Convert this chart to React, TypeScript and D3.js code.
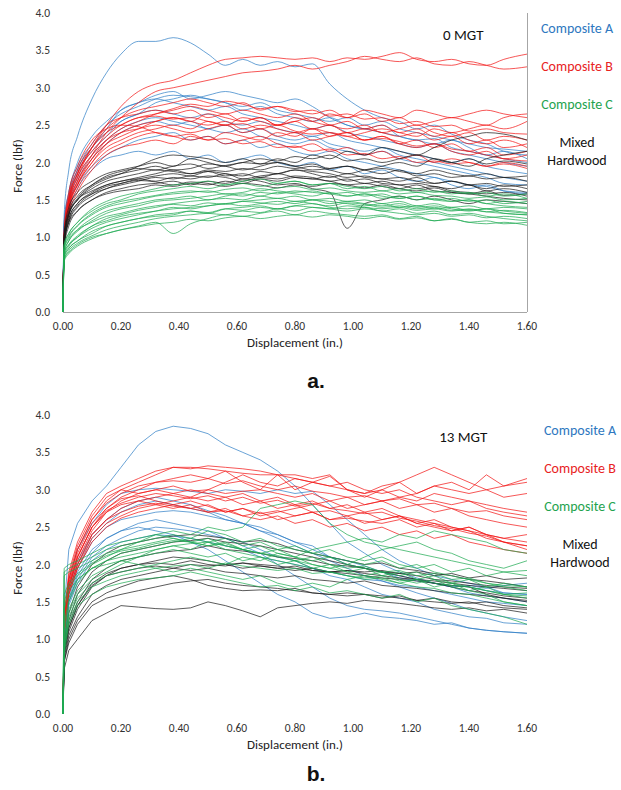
import React from "react";
import * as d3 from "d3";

// displacement (in.) sampling shared by every curve
const disp = [0, 0.004, 0.02, 0.05, 0.1, 0.15, 0.2, 0.26, 0.32, 0.38,
  0.44, 0.5, 0.56, 0.62, 0.68, 0.74, 0.8, 0.86, 0.92, 0.98,
  1.04, 1.1, 1.16, 1.22, 1.28, 1.34, 1.4, 1.46, 1.52, 1.6];

const xTicks = [0, 0.2, 0.4, 0.6, 0.8, 1.0, 1.2, 1.4, 1.6];
const yTicks = [0, 0.5, 1.0, 1.5, 2.0, 2.5, 3.0, 3.5, 4.0];

const groupNames = ["Composite A", "Composite B", "Composite C", "Mixed Hardwood"];

// ---- 0 MGT ----
const aCompA = [
  [0, 1.3, 1.9, 2.35, 2.85, 3.2, 3.45, 3.62, 3.62, 3.67, 3.6, 3.45, 3.3, 3.38, 3.3, 3.35, 3.28, 3.32, 3.05, 2.85, 2.7, 2.6, 2.55, 2.45, 2.5, 2.38, 2.3, 2.25, 2.15, 2.1],
  [0, 1.2, 1.6, 1.95, 2.25, 2.5, 2.65, 2.75, 2.85, 2.9, 2.88, 2.85, 2.8, 2.7, 2.75, 2.65, 2.6, 2.55, 2.6, 2.5, 2.45, 2.4, 2.35, 2.3, 2.32, 2.2, 2.15, 2.1, 2.05, 2.0],
  [0, 1.1, 1.5, 1.9, 2.2, 2.45, 2.7, 2.8, 2.9, 2.95, 2.85, 2.9, 2.95, 2.9, 2.85, 2.8, 2.85, 2.75, 2.6, 2.5, 2.45, 2.5, 2.35, 2.3, 2.25, 2.3, 2.2, 2.1, 2.15, 2.05],
  [0, 1.0, 1.4, 1.75, 2.05, 2.25, 2.4, 2.5, 2.55, 2.5, 2.55, 2.45, 2.5, 2.4, 2.45, 2.35, 2.3, 2.35, 2.25, 2.2, 2.15, 2.2, 2.1, 2.05, 2.0, 1.95, 1.9, 1.85, 1.8, 1.75],
  [0, 1.05, 1.45, 1.7, 1.95, 2.1, 2.2, 2.3, 2.35, 2.4, 2.3, 2.35, 2.25, 2.3, 2.2, 2.25, 2.15, 2.1, 2.15, 2.05, 2.0, 1.95, 1.9, 1.85, 1.8, 1.75, 1.7, 1.68, 1.62, 1.6],
  [0, 1.15, 1.55, 1.9, 2.2, 2.4, 2.55, 2.65, 2.7, 2.65, 2.6, 2.65, 2.55, 2.5, 2.55, 2.45, 2.4, 2.35, 2.4, 2.3, 2.25, 2.2, 2.15, 2.1, 2.05, 2.0, 2.05, 1.95, 1.9, 1.85],
  [0, 1.0, 1.35, 1.65, 1.9, 2.05, 2.1, 2.15, 2.1, 2.15, 2.05, 2.1, 2.0, 2.05, 2.1, 2.0, 1.95, 2.0, 1.9, 1.95, 1.85, 1.9, 1.8, 1.75, 1.8, 1.7, 1.65, 1.7, 1.62, 1.58],
  [0, 1.2, 1.6, 2.0, 2.35, 2.55, 2.7, 2.8, 2.85, 2.8, 2.75, 2.7, 2.75, 2.65, 2.6, 2.55, 2.5, 2.45, 2.5, 2.4, 2.35, 2.3, 2.25, 2.2, 2.25, 2.15, 2.1, 2.05, 2.0, 1.95],
  [0, 1.1, 1.5, 1.8, 2.1, 2.3, 2.45, 2.55, 2.6, 2.55, 2.5, 2.45, 2.4, 2.45, 2.35, 2.3, 2.25, 2.3, 2.2, 2.15, 2.1, 2.15, 2.05, 2.0, 1.95, 1.9, 1.85, 1.8, 1.72, 1.7],
  [0, 1.05, 1.45, 1.85, 2.15, 2.35, 2.55, 2.65, 2.8, 2.85, 2.9, 2.85, 2.8, 2.75, 2.8, 2.7, 2.65, 2.6, 2.55, 2.6, 2.5, 2.55, 2.45, 2.4, 2.35, 2.3, 2.25, 2.2, 2.18, 2.15],
];

const aCompB = [
  [0, 1.0, 1.45, 1.8, 2.2, 2.5, 2.75, 2.95, 3.05, 3.1, 3.2, 3.3, 3.38, 3.4, 3.42, 3.4, 3.38, 3.4, 3.35, 3.4, 3.38, 3.42, 3.47, 3.38, 3.35, 3.38, 3.32, 3.3, 3.38, 3.45],
  [0, 0.95, 1.4, 1.75, 2.1, 2.4, 2.6, 2.8, 2.95, 3.0, 3.05, 3.1, 3.15, 3.2, 3.22, 3.25, 3.3, 3.25, 3.3, 3.35, 3.42, 3.38, 3.35, 3.4, 3.32, 3.3, 3.35, 3.3, 3.25, 3.28],
  [0, 1.0, 1.5, 1.85, 2.2, 2.45, 2.6, 2.7, 2.75, 2.8, 2.85, 2.8, 2.75, 2.8, 2.7, 2.75, 2.7, 2.65, 2.7, 2.6, 2.65, 2.55, 2.6, 2.5, 2.55, 2.6, 2.55, 2.5, 2.6, 2.65],
  [0, 0.9, 1.4, 1.7, 2.0, 2.25, 2.4, 2.5, 2.55, 2.6, 2.55, 2.65, 2.6, 2.55, 2.6, 2.5, 2.55, 2.6, 2.5, 2.45, 2.5, 2.4, 2.45, 2.5, 2.4, 2.35, 2.4, 2.3, 2.35, 2.3],
  [0, 1.0, 1.45, 1.8, 2.1, 2.3, 2.4, 2.45, 2.5, 2.45, 2.4, 2.45, 2.5, 2.4, 2.45, 2.35, 2.4, 2.3, 2.35, 2.4, 2.3, 2.35, 2.25, 2.3, 2.2, 2.25, 2.15, 2.2, 2.1, 2.15],
  [0, 0.95, 1.35, 1.65, 1.95, 2.15, 2.25, 2.35, 2.4, 2.35, 2.3, 2.35, 2.25, 2.3, 2.35, 2.25, 2.2, 2.25, 2.15, 2.2, 2.1, 2.15, 2.05, 2.1, 2.0, 2.05, 2.0, 1.95, 2.0, 1.95],
  [0, 1.05, 1.55, 1.9, 2.25, 2.5, 2.6, 2.65, 2.7, 2.65, 2.7, 2.6, 2.65, 2.55, 2.6, 2.5, 2.55, 2.45, 2.5, 2.4, 2.45, 2.4, 2.35, 2.4, 2.3, 2.35, 2.25, 2.3, 2.2, 2.25],
  [0, 0.9, 1.3, 1.6, 1.9, 2.1, 2.2, 2.25, 2.3, 2.25, 2.35, 2.3, 2.4, 2.35, 2.3, 2.4, 2.35, 2.45, 2.4, 2.35, 2.4, 2.45, 2.4, 2.35, 2.45, 2.4, 2.45, 2.5, 2.45, 2.55],
  [0, 1.0, 1.5, 1.85, 2.15, 2.35, 2.5, 2.6, 2.65, 2.7, 2.75, 2.7, 2.65, 2.7, 2.65, 2.6, 2.65, 2.55, 2.5, 2.55, 2.45, 2.5, 2.4, 2.45, 2.35, 2.4, 2.3, 2.25, 2.3, 2.2],
  [0, 0.95, 1.45, 1.75, 2.05, 2.25, 2.35, 2.45, 2.55, 2.6, 2.55, 2.5, 2.55, 2.45, 2.5, 2.45, 2.4, 2.45, 2.35, 2.4, 2.3, 2.35, 2.25, 2.2, 2.25, 2.15, 2.1, 2.15, 2.05, 2.1],
  [0, 1.0, 1.4, 1.7, 2.0, 2.2, 2.3, 2.4, 2.45, 2.5, 2.45, 2.55, 2.5, 2.6, 2.55, 2.5, 2.6, 2.55, 2.65, 2.6, 2.7, 2.65, 2.6, 2.7, 2.65, 2.6, 2.65, 2.7, 2.65, 2.6],
  [0, 1.05, 1.5, 1.85, 2.2, 2.4, 2.5, 2.6, 2.62, 2.58, 2.6, 2.55, 2.5, 2.52, 2.45, 2.5, 2.42, 2.38, 2.4, 2.35, 2.3, 2.32, 2.28, 2.22, 2.25, 2.18, 2.15, 2.1, 2.05, 2.02],
  [0, 0.9, 1.35, 1.7, 2.05, 2.3, 2.45, 2.55, 2.65, 2.72, 2.78, 2.75, 2.82, 2.78, 2.72, 2.75, 2.68, 2.7, 2.62, 2.65, 2.58, 2.6, 2.52, 2.55, 2.48, 2.5, 2.42, 2.45, 2.4, 2.38],
  [0, 1.1, 1.6, 1.95, 2.3, 2.45, 2.5, 2.48, 2.4, 2.35, 2.38, 2.3, 2.32, 2.25, 2.28, 2.2, 2.22, 2.15, 2.18, 2.1, 2.12, 2.05, 2.08, 2.0, 2.02, 1.98, 2.0, 1.95, 1.98, 1.92],
];

const aCompC = [
  [0, 0.75, 0.85, 0.95, 1.05, 1.15, 1.2, 1.25, 1.3, 1.32, 1.35, 1.33, 1.38, 1.36, 1.4, 1.38, 1.42, 1.4, 1.38, 1.42, 1.4, 1.38, 1.4, 1.36, 1.38, 1.35, 1.37, 1.34, 1.36, 1.33],
  [0, 0.8, 0.95, 1.1, 1.25, 1.35, 1.4, 1.45, 1.5, 1.52, 1.55, 1.5, 1.55, 1.58, 1.55, 1.6, 1.58, 1.55, 1.6, 1.55, 1.58, 1.52, 1.55, 1.5, 1.52, 1.48, 1.5, 1.45, 1.48, 1.45],
  [0, 0.7, 0.8, 0.9, 1.0, 1.05, 1.1, 1.15, 1.2, 1.05, 1.18, 1.25, 1.3, 1.28, 1.32, 1.35, 1.3, 1.35, 1.32, 1.3, 1.28, 1.3, 1.25, 1.28, 1.22, 1.25, 1.2, 1.22, 1.18, 1.2],
  [0, 0.85, 1.0, 1.15, 1.3, 1.4, 1.45, 1.5, 1.55, 1.58, 1.6, 1.62, 1.58, 1.6, 1.65, 1.62, 1.6, 1.62, 1.58, 1.6, 1.55, 1.58, 1.52, 1.55, 1.5, 1.52, 1.48, 1.5, 1.45, 1.48],
  [0, 0.8, 0.9, 1.0, 1.12, 1.2, 1.25, 1.3, 1.35, 1.38, 1.4, 1.42, 1.45, 1.42, 1.45, 1.48, 1.45, 1.5, 1.48, 1.45, 1.42, 1.45, 1.4, 1.42, 1.38, 1.4, 1.36, 1.38, 1.35, 1.32],
  [0, 0.9, 1.05, 1.2, 1.35, 1.45, 1.5, 1.58, 1.62, 1.65, 1.68, 1.65, 1.7, 1.72, 1.68, 1.72, 1.75, 1.7, 1.72, 1.68, 1.65, 1.68, 1.62, 1.65, 1.6, 1.62, 1.58, 1.6, 1.55, 1.58],
  [0, 0.7, 0.82, 0.92, 1.02, 1.1, 1.15, 1.2, 1.25, 1.28, 1.3, 1.32, 1.3, 1.35, 1.33, 1.38, 1.35, 1.4, 1.38, 1.35, 1.38, 1.35, 1.32, 1.3, 1.32, 1.28, 1.3, 1.26, 1.28, 1.25],
  [0, 0.85, 0.98, 1.1, 1.2, 1.28, 1.32, 1.38, 1.42, 1.45, 1.48, 1.5, 1.52, 1.5, 1.55, 1.52, 1.55, 1.5, 1.52, 1.48, 1.5, 1.45, 1.48, 1.42, 1.45, 1.4, 1.42, 1.38, 1.4, 1.38],
  [0, 0.75, 0.88, 1.0, 1.15, 1.22, 1.28, 1.32, 1.35, 1.4, 1.38, 1.42, 1.45, 1.48, 1.5, 1.52, 1.48, 1.5, 1.45, 1.48, 1.45, 1.42, 1.45, 1.4, 1.42, 1.38, 1.35, 1.38, 1.32, 1.3],
  [0, 0.9, 1.05, 1.2, 1.38, 1.48, 1.55, 1.6, 1.65, 1.7, 1.72, 1.75, 1.7, 1.75, 1.78, 1.72, 1.75, 1.7, 1.72, 1.65, 1.68, 1.62, 1.65, 1.6, 1.62, 1.58, 1.6, 1.55, 1.58, 1.52],
  [0, 0.72, 0.85, 0.95, 1.08, 1.15, 1.2, 1.25, 1.28, 1.3, 1.35, 1.32, 1.38, 1.4, 1.42, 1.38, 1.42, 1.45, 1.4, 1.38, 1.4, 1.35, 1.38, 1.32, 1.35, 1.3, 1.32, 1.28, 1.25, 1.22],
  [0, 0.8, 0.95, 1.08, 1.22, 1.32, 1.38, 1.42, 1.48, 1.5, 1.52, 1.55, 1.58, 1.55, 1.6, 1.58, 1.62, 1.6, 1.58, 1.55, 1.58, 1.55, 1.52, 1.55, 1.5, 1.48, 1.5, 1.45, 1.42, 1.4],
  [0, 0.78, 0.9, 1.02, 1.15, 1.25, 1.3, 1.36, 1.4, 1.44, 1.42, 1.46, 1.44, 1.48, 1.46, 1.44, 1.48, 1.45, 1.42, 1.46, 1.44, 1.4, 1.42, 1.38, 1.4, 1.36, 1.38, 1.34, 1.32, 1.3],
  [0, 0.88, 1.02, 1.16, 1.32, 1.42, 1.48, 1.52, 1.56, 1.6, 1.62, 1.6, 1.64, 1.66, 1.62, 1.66, 1.68, 1.64, 1.66, 1.62, 1.6, 1.62, 1.58, 1.6, 1.56, 1.55, 1.52, 1.54, 1.5, 1.52],
  [0, 0.68, 0.78, 0.88, 0.98, 1.05, 1.1, 1.14, 1.18, 1.2, 1.24, 1.22, 1.26, 1.28, 1.25, 1.28, 1.3, 1.27, 1.3, 1.28, 1.25, 1.28, 1.24, 1.26, 1.22, 1.24, 1.2, 1.18, 1.2, 1.16],
];

const aMixed = [
  [0, 0.9, 1.2, 1.4, 1.55, 1.65, 1.7, 1.75, 1.8, 1.78, 1.82, 1.8, 1.85, 1.78, 1.82, 1.85, 1.9, 1.85, 1.8, 1.85, 1.8, 1.78, 1.75, 1.8, 1.72, 1.75, 1.7, 1.65, 1.7, 1.65],
  [0, 1.0, 1.3, 1.5, 1.65, 1.75, 1.8, 1.85, 1.9, 1.88, 1.85, 1.9, 1.88, 1.92, 1.9, 1.95, 1.92, 1.95, 1.9, 1.85, 1.9, 1.95, 2.0, 1.95, 2.05, 2.0, 1.95, 2.05, 2.1, 2.15],
  [0, 0.85, 1.15, 1.35, 1.5, 1.6, 1.65, 1.7, 1.72, 1.75, 1.7, 1.75, 1.72, 1.78, 1.75, 1.7, 1.72, 1.65, 1.6, 1.12, 1.45, 1.5, 1.55, 1.5, 1.55, 1.5, 1.45, 1.5, 1.48, 1.45],
  [0, 0.95, 1.25, 1.45, 1.6, 1.7, 1.75, 1.8, 1.85, 1.9, 1.85, 1.88, 1.82, 1.85, 1.8, 1.85, 1.8, 1.78, 1.75, 1.7, 1.72, 1.68, 1.65, 1.7, 1.62, 1.6, 1.58, 1.55, 1.52, 1.5],
  [0, 1.0, 1.35, 1.55, 1.7, 1.8, 1.85, 1.9, 1.95, 1.9, 1.92, 1.98, 1.95, 1.9, 1.95, 2.0, 1.95, 1.9, 1.92, 1.95, 1.9, 1.85, 1.9, 1.82, 1.85, 1.8, 1.82, 1.78, 1.8, 1.75],
  [0, 0.9, 1.2, 1.35, 1.5, 1.58, 1.62, 1.65, 1.7, 1.68, 1.72, 1.7, 1.75, 1.72, 1.78, 1.75, 1.8, 1.78, 1.82, 1.75, 1.78, 1.72, 1.7, 1.65, 1.68, 1.62, 1.6, 1.58, 1.6, 1.55],
  [0, 1.05, 1.4, 1.6, 1.75, 1.85, 1.9, 1.95, 2.0, 1.95, 2.05, 2.0, 1.95, 2.0, 1.98, 2.05, 2.0, 2.1, 2.05, 2.15, 2.1, 2.2, 2.15, 2.1, 2.2, 2.3, 2.35, 2.4, 2.38, 2.3],
  [0, 0.95, 1.3, 1.5, 1.62, 1.7, 1.75, 1.78, 1.75, 1.8, 1.78, 1.82, 1.8, 1.75, 1.8, 1.78, 1.82, 1.8, 1.75, 1.78, 1.72, 1.75, 1.7, 1.72, 1.68, 1.65, 1.7, 1.62, 1.65, 1.6],
  [0, 0.9, 1.25, 1.45, 1.58, 1.65, 1.72, 1.78, 1.82, 1.85, 1.82, 1.88, 1.85, 1.82, 1.88, 1.85, 1.9, 1.88, 1.85, 1.8, 1.82, 1.78, 1.8, 1.75, 1.72, 1.75, 1.7, 1.72, 1.68, 1.7],
  [0, 1.0, 1.3, 1.5, 1.68, 1.78, 1.85, 1.95, 2.05, 2.1, 2.08, 2.05, 2.0, 2.05, 1.98, 2.0, 1.95, 1.98, 1.92, 1.95, 1.9, 1.92, 1.88, 1.85, 1.9, 1.85, 1.82, 1.85, 1.8, 1.82],
  [0, 0.92, 1.22, 1.42, 1.58, 1.68, 1.72, 1.76, 1.74, 1.7, 1.74, 1.72, 1.68, 1.72, 1.7, 1.66, 1.7, 1.68, 1.72, 1.7, 1.66, 1.7, 1.65, 1.62, 1.66, 1.6, 1.58, 1.62, 1.56, 1.58],
  [0, 1.02, 1.32, 1.52, 1.7, 1.82, 1.88, 1.92, 1.9, 1.95, 1.98, 1.92, 1.96, 2.0, 2.05, 2.02, 2.08, 2.05, 2.1, 2.02, 2.05, 2.0, 2.05, 2.1, 2.05, 2.0, 2.05, 1.98, 2.02, 1.98],
];

// ---- 13 MGT ----
const bCompA = [
  [0, 1.4, 2.2, 2.55, 2.85, 3.05, 3.3, 3.6, 3.78, 3.85, 3.82, 3.75, 3.6, 3.5, 3.4, 3.25, 3.05, 2.8, 2.55, 2.3, 2.15, 2.0, 1.9, 1.82, 1.75, 1.7, 1.62, 1.58, 1.55, 1.5],
  [0, 1.2, 1.8, 2.2, 2.55, 2.8, 2.95, 3.0, 3.02, 3.0, 2.98, 2.95, 3.0, 2.98, 2.95, 3.0, 2.95, 2.98, 2.8, 2.6, 2.4, 2.2, 2.05, 1.95, 1.85, 1.8, 1.75, 1.7, 1.62, 1.6],
  [0, 1.1, 1.65, 2.0, 2.35, 2.55, 2.7, 2.8, 2.85, 2.8, 2.75, 2.7, 2.6, 2.55, 2.45, 2.35, 2.25, 2.15, 2.05, 1.95, 1.85, 1.78, 1.7, 1.62, 1.55, 1.48, 1.4, 1.35, 1.3, 1.25],
  [0, 1.0, 1.5, 1.85, 2.15, 2.35, 2.45, 2.55, 2.6, 2.55, 2.5, 2.45, 2.35, 2.25, 2.15, 2.0, 1.85, 1.7, 1.55, 1.45, 1.4, 1.38, 1.35, 1.3, 1.25, 1.2, 1.15, 1.12, 1.1, 1.08],
  [0, 1.05, 1.55, 1.9, 2.2, 2.35, 2.45, 2.5, 2.45, 2.4, 2.3, 2.2, 2.05, 1.9, 1.75, 1.6, 1.5, 1.35, 1.28, 1.3, 1.35, 1.3, 1.28, 1.25, 1.2, 1.22, 1.15, 1.12, 1.1, 1.08],
  [0, 1.15, 1.7, 2.05, 2.4, 2.6, 2.75, 2.85, 2.9, 2.85, 2.8, 2.72, 2.65, 2.55, 2.5, 2.4, 2.3, 2.2, 2.1, 2.05, 1.98, 1.9, 1.85, 1.8, 1.75, 1.72, 1.7, 1.65, 1.62, 1.6],
  [0, 0.95, 1.45, 1.75, 2.05, 2.2, 2.3, 2.35, 2.4, 2.38, 2.35, 2.3, 2.25, 2.2, 2.1, 2.05, 2.0, 1.95, 1.9, 1.85, 1.8, 1.78, 1.72, 1.7, 1.65, 1.6, 1.55, 1.5, 1.48, 1.45],
  [0, 1.1, 1.6, 1.95, 2.3, 2.5, 2.6, 2.65, 2.7, 2.72, 2.7, 2.65, 2.6, 2.55, 2.45, 2.4, 2.3, 2.25, 2.1, 2.0, 1.95, 1.9, 1.82, 1.78, 1.75, 1.7, 1.72, 1.68, 1.72, 1.75],
  [0, 1.0, 1.5, 1.8, 2.1, 2.25, 2.35, 2.45, 2.5, 2.48, 2.45, 2.4, 2.35, 2.3, 2.2, 2.1, 2.05, 1.95, 1.85, 1.8, 1.7, 1.6, 1.55, 1.5, 1.4, 1.35, 1.3, 1.28, 1.22, 1.2],
];

const bCompB = [
  [0, 1.3, 1.8, 2.2, 2.6, 2.85, 3.0, 3.1, 3.2, 3.3, 3.28, 3.32, 3.3, 3.28, 3.25, 3.2, 3.2, 3.15, 3.2, 3.0, 2.95, 3.05, 3.1, 3.2, 3.3, 3.2, 3.1, 3.0, 3.05, 3.1],
  [0, 1.2, 1.75, 2.1, 2.5, 2.75, 2.9, 3.0, 3.1, 3.15, 3.2, 3.15, 3.25, 3.1, 3.0, 3.2, 3.0, 3.1, 3.18, 3.0, 2.9, 3.0, 3.1, 2.95, 3.05, 3.1, 3.0, 3.2, 3.05, 3.15],
  [0, 1.15, 1.7, 2.05, 2.45, 2.7, 2.85, 2.95, 3.0, 2.95, 3.0, 2.95, 2.9, 2.95, 2.85, 2.9, 2.8, 2.85, 2.75, 2.8, 2.7, 2.75, 2.65, 2.6, 2.55, 2.5, 2.45, 2.35, 2.3, 2.2],
  [0, 1.1, 1.65, 2.0, 2.4, 2.6, 2.75, 2.85, 2.9, 2.95, 2.9, 2.85, 2.9, 2.8, 2.85, 2.75, 2.8, 2.7, 2.72, 2.65, 2.7, 2.6, 2.65, 2.55, 2.6, 2.5, 2.45, 2.4, 2.35, 2.3],
  [0, 1.2, 1.7, 2.1, 2.5, 2.7, 2.8, 2.85, 2.8, 2.75, 2.8, 2.7, 2.75, 2.65, 2.7, 2.6, 2.65, 2.7, 2.6, 2.65, 2.55, 2.6, 2.65, 2.55, 2.5, 2.45, 2.5, 2.4, 2.3, 2.25],
  [0, 1.05, 1.6, 1.95, 2.3, 2.5, 2.62, 2.7, 2.75, 2.8, 2.85, 2.78, 2.7, 2.75, 2.65, 2.7, 2.75, 2.8, 2.85, 2.75, 2.8, 2.85, 2.9, 2.85, 2.95, 2.9, 2.85, 2.8, 2.75, 2.7],
  [0, 1.25, 1.85, 2.25, 2.65, 2.9, 3.0, 2.95, 3.0, 3.05, 2.98, 3.0, 2.95, 2.98, 3.0, 2.95, 2.9, 2.95, 2.85, 2.9, 2.8, 2.85, 2.75, 2.8, 2.7, 2.75, 2.65, 2.6, 2.55, 2.5],
  [0, 1.1, 1.6, 1.95, 2.35, 2.55, 2.65, 2.75, 2.8, 2.85, 2.9, 3.0, 3.1, 3.2, 3.1, 3.05, 3.15, 3.1, 3.05, 3.0, 2.95, 3.0, 2.9, 2.95, 3.05, 3.0, 2.95, 3.0, 2.9, 2.95],
  [0, 1.2, 1.75, 2.15, 2.55, 2.75, 2.88, 2.92, 2.85, 2.8, 2.75, 2.7, 2.72, 2.65, 2.6, 2.65, 2.55, 2.6, 2.5, 2.55, 2.45, 2.5, 2.4, 2.45, 2.35, 2.4, 2.3, 2.25, 2.2, 2.15],
  [0, 1.3, 1.9, 2.3, 2.7, 2.95, 3.05, 3.15, 3.25, 3.3, 3.3, 3.28, 3.25, 3.22, 3.2, 3.2, 3.15, 3.1, 3.05, 3.1, 3.0, 2.95, 3.0, 2.9, 2.85, 2.8, 2.85, 2.75, 2.7, 2.65],
  [0, 1.1, 1.65, 2.0, 2.4, 2.6, 2.7, 2.78, 2.82, 2.78, 2.75, 2.8, 2.7, 2.75, 2.68, 2.72, 2.65, 2.7, 2.6, 2.62, 2.58, 2.55, 2.6, 2.5, 2.55, 2.45, 2.5, 2.4, 2.35, 2.4],
  [0, 1.15, 1.7, 2.1, 2.5, 2.72, 2.82, 2.9, 2.95, 2.92, 2.88, 2.92, 2.85, 2.9, 2.82, 2.86, 2.78, 2.82, 2.75, 2.72, 2.68, 2.7, 2.62, 2.58, 2.52, 2.48, 2.42, 2.38, 2.3, 2.25],
  [0, 1.25, 1.8, 2.2, 2.6, 2.82, 2.95, 3.05, 3.1, 3.12, 3.1, 3.15, 3.08, 3.12, 3.05, 3.0, 3.05, 2.98, 2.95, 2.9, 2.92, 2.85, 2.88, 2.8, 2.82, 2.75, 2.7, 2.72, 2.65, 2.6],
];

const bCompC = [
  [0, 1.9, 1.95, 2.0, 2.1, 2.2, 2.25, 2.3, 2.35, 2.4, 2.35, 2.3, 2.35, 2.25, 2.3, 2.2, 2.25, 2.15, 2.2, 2.1, 2.05, 2.1, 2.0, 1.95, 2.0, 1.9, 1.95, 1.85, 1.9, 1.85],
  [0, 1.5, 1.7, 1.85, 2.0, 2.1, 2.2, 2.3, 2.4, 2.45, 2.4, 2.5, 2.45, 2.5, 2.75, 2.8, 2.85, 2.8, 2.55, 2.4, 2.3, 2.25, 2.2, 2.15, 2.1, 2.05, 2.0, 1.95, 1.9, 1.92],
  [0, 1.0, 1.4, 1.65, 1.85, 1.95, 2.05, 2.1, 2.15, 2.2, 2.15, 2.1, 2.15, 2.05, 2.1, 2.0, 2.05, 1.95, 2.0, 1.9, 1.95, 1.85, 1.9, 1.8, 1.85, 1.75, 1.8, 1.7, 1.75, 1.7],
  [0, 0.9, 1.3, 1.55, 1.75, 1.85, 1.9, 1.95, 2.0, 2.05, 2.1, 2.05, 2.0, 2.1, 2.05, 2.15, 2.1, 2.2, 2.25, 2.3, 2.35, 2.3, 2.4, 2.35, 2.45, 2.4, 2.35, 2.3, 2.2, 2.15],
  [0, 1.85, 1.9, 1.95, 2.05, 2.15, 2.2, 2.25, 2.3, 2.35, 2.3, 2.25, 2.3, 2.2, 2.15, 2.2, 2.1, 2.05, 2.1, 2.0, 1.95, 1.9, 1.85, 1.9, 1.8, 1.75, 1.7, 1.65, 1.6, 1.55],
  [0, 0.8, 1.2, 1.45, 1.6, 1.7, 1.75, 1.8, 1.82, 1.85, 1.9, 1.85, 1.8, 1.75, 1.7, 1.72, 1.65, 1.7, 1.62, 1.65, 1.6, 1.55, 1.6, 1.5, 1.55, 1.45, 1.4, 1.35, 1.3, 1.2],
  [0, 1.1, 1.5, 1.75, 1.95, 2.05, 2.15, 2.2, 2.25, 2.3, 2.35, 2.45, 2.4, 2.3, 2.35, 2.25, 2.2, 2.15, 2.1, 2.05, 2.0, 2.05, 1.95, 2.0, 1.9, 1.85, 1.8, 1.75, 1.7, 1.65],
  [0, 1.95, 2.0, 2.05, 2.15, 2.25, 2.3, 2.35, 2.4, 2.35, 2.3, 2.35, 2.25, 2.2, 2.25, 2.15, 2.1, 2.0, 1.95, 1.9, 1.85, 1.9, 1.8, 1.75, 1.8, 1.7, 1.65, 1.6, 1.5, 1.45],
  [0, 1.2, 1.55, 1.8, 1.95, 2.0, 2.05, 2.0, 1.95, 1.9, 1.95, 1.9, 1.85, 1.8, 1.85, 1.75, 1.7, 1.75, 1.7, 1.8, 1.85, 1.8, 1.75, 1.8, 1.7, 1.75, 1.65, 1.7, 1.6, 1.62],
  [0, 0.95, 1.35, 1.6, 1.8, 1.9, 2.0, 2.1, 2.2, 2.25, 2.2, 2.3, 2.25, 2.2, 2.15, 2.1, 2.05, 2.0, 1.95, 2.0, 2.1, 2.2, 2.25, 2.3, 2.2, 2.15, 2.05, 2.0, 1.95, 2.05],
  [0, 1.4, 1.65, 1.8, 1.95, 2.05, 2.1, 2.15, 2.2, 2.25, 2.28, 2.3, 2.2, 2.15, 2.1, 2.05, 2.0, 1.95, 1.9, 1.85, 1.8, 1.82, 1.75, 1.7, 1.68, 1.62, 1.6, 1.55, 1.5, 1.45],
  [0, 1.6, 1.75, 1.88, 2.02, 2.12, 2.18, 2.22, 2.28, 2.32, 2.3, 2.25, 2.28, 2.2, 2.15, 2.12, 2.05, 2.1, 2.0, 1.95, 1.98, 1.9, 1.92, 1.85, 1.88, 1.8, 1.82, 1.75, 1.72, 1.7],
  [0, 0.85, 1.25, 1.5, 1.7, 1.78, 1.85, 1.9, 1.95, 1.98, 2.0, 1.95, 2.02, 1.98, 1.95, 1.92, 1.95, 1.88, 1.9, 1.85, 1.82, 1.85, 1.78, 1.8, 1.75, 1.72, 1.7, 1.65, 1.6, 1.58],
];

const bMixed = [
  [0, 0.6, 0.85, 1.0, 1.25, 1.35, 1.45, 1.43, 1.41, 1.4, 1.42, 1.5, 1.45, 1.38, 1.3, 1.42, 1.45, 1.48, 1.5, 1.48, 1.52, 1.5, 1.48, 1.45, 1.42, 1.4, 1.42, 1.38, 1.4, 1.35],
  [0, 0.7, 1.0, 1.25, 1.5, 1.62, 1.7, 1.78, 1.82, 1.85, 1.8, 1.72, 1.68, 1.65, 1.66, 1.65, 1.68, 1.62, 1.6, 1.58, 1.6, 1.55, 1.58, 1.52, 1.55, 1.5, 1.48, 1.5, 1.45, 1.42],
  [0, 0.8, 1.1, 1.4, 1.7, 1.85, 1.95, 2.0, 2.05, 2.1, 2.08, 2.05, 2.0, 2.02, 1.98, 1.95, 1.98, 1.92, 1.9, 1.92, 1.88, 1.85, 1.82, 1.8, 1.78, 1.75, 1.72, 1.7, 1.68, 1.65],
  [0, 0.9, 1.25, 1.6, 1.9, 2.05, 2.15, 2.2, 2.25, 2.3, 2.32, 2.35, 2.3, 2.28, 2.25, 2.2, 2.15, 2.1, 2.05, 2.0, 1.95, 1.9, 1.88, 1.85, 1.8, 1.78, 1.75, 1.72, 1.7, 1.68],
  [0, 0.75, 1.05, 1.3, 1.6, 1.72, 1.8, 1.85, 1.9, 1.95, 2.0, 1.98, 2.0, 1.95, 1.98, 1.95, 1.92, 1.95, 1.9, 1.92, 1.9, 1.92, 1.88, 1.9, 1.85, 1.88, 1.82, 1.85, 1.8, 1.82],
  [0, 0.85, 1.2, 1.5, 1.8, 1.95, 2.05, 2.1, 2.15, 2.18, 2.2, 2.25, 2.2, 2.18, 2.15, 2.1, 2.08, 2.05, 2.0, 1.98, 1.95, 1.9, 1.85, 1.8, 1.75, 1.7, 1.65, 1.62, 1.58, 1.55],
  [0, 0.7, 0.95, 1.2, 1.45, 1.55, 1.6, 1.65, 1.7, 1.75, 1.78, 1.8, 1.75, 1.72, 1.7, 1.68, 1.65, 1.62, 1.6, 1.62, 1.6, 1.58, 1.55, 1.52, 1.5, 1.48, 1.5, 1.45, 1.42, 1.4],
  [0, 0.95, 1.35, 1.7, 2.0, 2.15, 2.25, 2.3, 2.35, 2.38, 2.4, 2.38, 2.35, 2.3, 2.32, 2.28, 2.2, 2.15, 2.1, 2.05, 2.0, 2.02, 1.95, 1.92, 1.88, 1.85, 1.8, 1.78, 1.75, 1.7],
  [0, 0.8, 1.15, 1.45, 1.75, 1.88, 1.95, 2.0, 2.02, 2.0, 2.05, 2.0, 1.98, 2.02, 2.0, 1.98, 1.95, 1.92, 1.9, 1.88, 1.85, 1.82, 1.8, 1.78, 1.75, 1.72, 1.7, 1.6, 1.55, 1.5],
  [0, 0.85, 1.15, 1.45, 1.72, 1.85, 1.9, 1.95, 1.98, 1.95, 1.92, 1.95, 1.9, 1.88, 1.85, 1.82, 1.85, 1.8, 1.78, 1.75, 1.78, 1.72, 1.7, 1.68, 1.65, 1.62, 1.6, 1.58, 1.55, 1.52],
];

const groupColors = ["#2f7fc6", "#f21515", "#1faa52", "#1a1a1a"];
const labelColors = ["#2e78c0", "#e8231f", "#1fa34f", "#111"];

const FONT = "Carlito, Lato, 'Open Sans', sans-serif";
const W = 621;
const H = 790;

type PanelProps = {
  top: number;
  series: number[][][];
  mgt: string;
  letter: string;
  letterY: number;
  boxed: boolean;
  smooth: boolean;
  legendX: number;
};

function Panel({ top, series, mgt, letter, letterY, boxed, smooth, legendX }: PanelProps) {
  const x = d3.scaleLinear().domain([0, 1.6]).range([63, 527]);
  const y = d3.scaleLinear().domain([0, 4]).range([top + 299, top]);
  const base = y(0);

  const line = d3
    .line<number>()
    .x((_, i) => x(disp[i]))
    .y((v) => y(v))
    .curve(smooth ? d3.curveMonotoneX : d3.curveLinear);

  // draw order: A, B, mixed, C
  const order = [0, 1, 3, 2];

  return (
    <g>
      {order.map((g) => (
        <g key={g}>
          {series[g].map((curve, j) => (
            <path
              key={j}
              d={line(curve) || ""}
              fill="none"
              stroke={groupColors[g]}
              strokeWidth={0.85}
              strokeOpacity={0.85}
            />
          ))}
        </g>
      ))}

      {boxed && (
        <g stroke="#a6a6a6" strokeWidth={1}>
          <line x1={x(0)} x2={x(1.6)} y1={base + 0.5} y2={base + 0.5} />
          <line x1={x(1.6) + 0.5} x2={x(1.6) + 0.5} y1={top} y2={base} />
        </g>
      )}

      {yTicks.map((t) => (
        <text key={t} x={50} y={y(t) + 4} textAnchor="end" fontSize={11.5} fill="#333" fontFamily={FONT}>
          {t.toFixed(1)}
        </text>
      ))}
      {xTicks.map((t) => (
        <text key={t} x={x(t)} y={base + 18} textAnchor="middle" fontSize={11.5} fill="#333" fontFamily={FONT}>
          {t.toFixed(2)}
        </text>
      ))}
      <text x={x(0.8)} y={base + 35} textAnchor="middle" fontSize={13} fill="#222" fontFamily={FONT}>
        Displacement (in.)
      </text>
      <text
        transform={`translate(22,${top + 153}) rotate(-90)`}
        textAnchor="middle"
        fontSize={13}
        fill="#222"
        fontFamily={FONT}
      >
        Force (lbf)
      </text>

      <text x={x(1.38)} y={top + 27} textAnchor="middle" fontSize={15} fill="#111" fontFamily={FONT}>
        {mgt}
      </text>

      {groupNames.slice(0, 3).map((n, i) => (
        <text key={n} x={legendX} y={top + 20 + i * 38} textAnchor="middle" fontSize={14} fill={labelColors[i]} fontFamily={FONT}>
          {n}
        </text>
      ))}
      <text x={legendX} y={top + 134} textAnchor="middle" fontSize={14} fill={labelColors[3]} fontFamily={FONT}>
        Mixed
      </text>
      <text x={legendX} y={top + 152} textAnchor="middle" fontSize={14} fill={labelColors[3]} fontFamily={FONT}>
        Hardwood
      </text>

      <text x={316} y={letterY} textAnchor="middle" fontSize={21} fontWeight="bold" fill="#111" fontFamily="'Liberation Sans', Arial, sans-serif">
        {letter}
      </text>
    </g>
  );
}

export default function App() {
  return (
    <svg width={W} height={H} style={{ position: "absolute", left: 0, top: 0, background: "#fff" }}>
      <rect width={W} height={H} fill="#fff" />
      <Panel top={13} series={[aCompA, aCompB, aCompC, aMixed]} mgt="0 MGT" letter="a." letterY={388} boxed smooth legendX={577} />
      <Panel top={415} series={[bCompA, bCompB, bCompC, bMixed]} mgt="13 MGT" letter="b." letterY={781} boxed={false} smooth={false} legendX={580} />
    </svg>
  );
}
